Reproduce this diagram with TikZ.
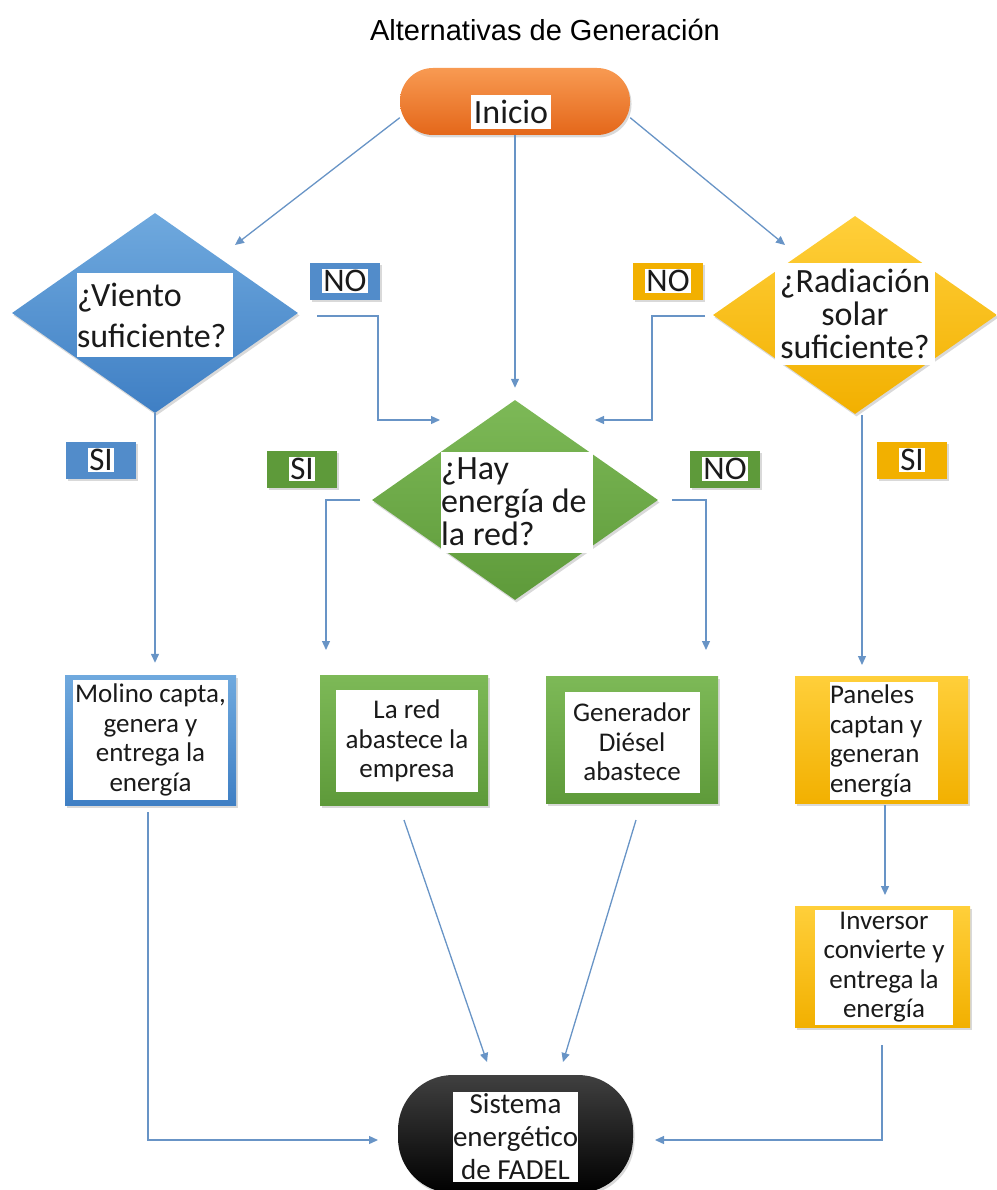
\documentclass[tikz,border=0pt]{standalone}
\usepackage{fontspec}
\setmainfont{Carlito}
\newfontfamily\titlefont{Liberation Sans}
\usetikzlibrary{arrows.meta,shapes.geometric,shadows,calc}
\definecolor{connc}{HTML}{6894C6}
\definecolor{txt}{HTML}{1A1A1A}
\definecolor{orgT}{HTML}{F89A52}
\definecolor{orgB}{HTML}{E4671A}
\definecolor{bluT}{HTML}{6FA9DE}
\definecolor{bluB}{HTML}{3F7FC4}
\definecolor{grnT}{HTML}{7DB957}
\definecolor{grnB}{HTML}{5E9A3A}
\definecolor{yelT}{HTML}{FFCF3A}
\definecolor{yelB}{HTML}{F2B000}
\newcommand\fDia{\fontsize{34}{41}\selectfont}
\newcommand\fDiaT{\fontsize{34}{33}\selectfont}
\newcommand\fBox{\fontsize{27}{29.5}\selectfont}
\newcommand\fLab{\fontsize{33}{33}\selectfont}
\setlength\fboxsep{1pt}
\begin{document}
\begin{tikzpicture}[x=1pt,y=-1pt,
  conn/.style={draw=connc, line width=1.3pt, -{Triangle[length=9pt,width=8pt]}},
  shad/.style={drop shadow={opacity=0.3, shadow xshift=1.5pt, shadow yshift=-2.5pt}},
  dia/.style={diamond, inner sep=0pt, draw=none, shad},
  frame/.style={rectangle, inner sep=0pt, draw=none, shad},
  wbox/.style={rectangle, fill=white, inner xsep=0pt, inner ysep=1pt, text=txt},
  lab/.style={rectangle, fill=#1, minimum width=70, minimum height=37, inner sep=0pt, font=\fLab, text=txt, shad}
]
\useasboundingbox (0,0) rectangle (996,1190);

% title
\node[font=\titlefont\fontsize{29}{29}\selectfont, text=black] (title) at (545,30) {Alternativas de Generación};

% start
\node[frame, top color=orgT, bottom color=orgB, rounded corners=33pt, minimum width=230, minimum height=67] (ini) at (515,101.5) {};
\node[rectangle, fill=white, inner xsep=3pt, inner ysep=5pt, font=\fontsize{34}{34}\selectfont, text=txt] (init) at (511,112) {Inicio};

% diamonds
\node[dia, top color=bluT, bottom color=bluB, minimum width=286, minimum height=200] (dv) at (155,313) {};
\node[wbox, text width=156, minimum height=84, align=flush left, font=\fDia] (dvt) at (155,315) {¿Viento\\suficiente?};

\node[dia, top color=grnT, bottom color=grnB, minimum width=286, minimum height=200] (dg) at (515,500) {};
\node[wbox, text width=152, minimum height=101, align=flush left, font=\fDiaT] (dgt) at (517,502) {¿Hay\\energía de\\la red?};

\node[dia, top color=yelT, bottom color=yelB, minimum width=284, minimum height=198] (dy) at (855,315) {};
\node[wbox, text width=160, minimum height=102, align=flush center, font=\fDiaT] (dyt) at (855,314) {¿Radiación\\solar\\suficiente?};

% labels
\node[lab=bluB!90] (noB) at (345,281) {\colorbox{white}{NO}};
\node[lab=yelB] (noY) at (668,281) {\colorbox{white}{NO}};
\node[lab=bluB!90] (siB) at (101,460) {\colorbox{white}{SI}};
\node[lab=grnB] (siG) at (302,469) {\colorbox{white}{SI}};
\node[lab=grnB] (noG) at (725,469) {\colorbox{white}{NO}};
\node[lab=yelB] (siY) at (912,460) {\colorbox{white}{SI}};

% boxes
\node[frame, top color=bluT, bottom color=bluB, minimum width=171, minimum height=130] (mol) at (150.5,740) {};
\node[wbox, text width=155, minimum height=120, align=flush center, font=\fBox] (molt) at (150.5,740) {Molino capta,\\genera y\\entrega la\\energía};

\node[frame, top color=grnT, bottom color=grnB, minimum width=168, minimum height=130] (red) at (404,740) {};
\node[wbox, text width=142, minimum height=102, align=flush center, font=\fBox] (redt) at (407,741) {La red\\abastece la\\empresa};

\node[frame, top color=grnT, bottom color=grnB, minimum width=172, minimum height=127] (gen) at (632,740) {};
\node[wbox, text width=135, minimum height=101, align=flush center, font=\fBox] (gent) at (632,742) {Generador\\Diésel\\abastece};

\node[frame, top color=yelT, bottom color=yelB, minimum width=173, minimum height=127] (pan) at (881.5,740) {};
\node[wbox, text width=108, minimum height=118, align=flush left, font=\fBox] (pant) at (884,741) {Paneles\\captan y\\generan\\energía};

\node[frame, top color=yelT, bottom color=yelB, minimum width=175, minimum height=121] (inv) at (882.5,967) {};
\node[wbox, text width=138, minimum height=115, align=flush center, font=\fBox] (invt) at (884,967) {Inversor\\convierte y\\entrega la\\energía};

% end
\node[frame, top color=black!75, bottom color=black, rounded corners=55pt, minimum width=235, minimum height=118] (sis) at (515.5,1134) {};
\node[wbox, text width=125, minimum height=90, align=flush center, font=\fontsize{29}{33}\selectfont] (sist) at (515.5,1137) {Sistema\\energético\\de FADEL};

% connector end points
\coordinate (a1) at (235,245);
\coordinate (a3) at (785,245);
\coordinate (bn0) at (317,316);
\coordinate (bn1) at (378,316);
\coordinate (bn2) at (378,420);
\coordinate (bn3) at (440,420);
\coordinate (yn0) at (705,316);
\coordinate (yn1) at (652,316);
\coordinate (yn2) at (652,420);
\coordinate (yn3) at (595,420);
\coordinate (gs0) at (360,500);
\coordinate (gs1) at (326,500);
\coordinate (gs2) at (326,650);
\coordinate (gn0) at (672,500);
\coordinate (gn1) at (706,500);
\coordinate (gn2) at (706,650);
\coordinate (ys0) at (862,415);
\coordinate (ys1) at (862,665);
\coordinate (pi0) at (885,805);
\coordinate (pi1) at (885,895);
\coordinate (m0) at (148,812);
\coordinate (m1) at (148,1140);
\coordinate (m2) at (378,1140);
\coordinate (i0) at (882,1045);
\coordinate (i1) at (882,1140);
\coordinate (i2) at (655,1140);
\coordinate (r0) at (404,820);
\coordinate (r1) at (487,1062);
\coordinate (g0) at (636,820);
\coordinate (g1) at (563,1062);

% connectors
\draw[conn] (ini.188) -- (a1);
\draw[conn] (ini.352) -- (a3);
\draw[conn, shorten >=12pt] (ini.south) -- (dg.north);
\draw[conn] (bn0) -- (bn1) -- (bn2) -- (bn3);
\draw[conn] (yn0) -- (yn1) -- (yn2) -- (yn3);
\draw[conn, shorten >=12pt] (dv.south) -- (dv.south |- mol.north);
\draw[conn] (gs0) -- (gs1) -- (gs2);
\draw[conn] (gn0) -- (gn1) -- (gn2);
\draw[conn] (ys0) -- (ys1);
\draw[conn] (pi0) -- (pi1);
\draw[conn] (m0) -- (m1) -- (m2);
\draw[conn] (i0) -- (i1) -- (i2);
\draw[conn] (r0) -- (r1);
\draw[conn] (g0) -- (g1);
\end{tikzpicture}
\end{document}
